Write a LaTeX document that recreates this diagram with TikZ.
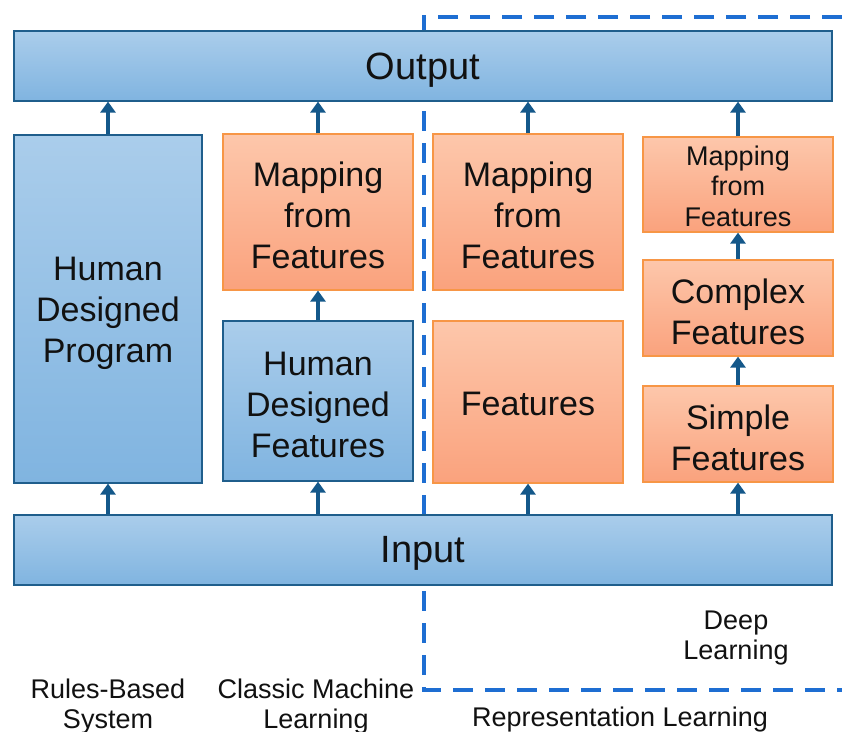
\documentclass[tikz,border=0pt]{standalone}
\usepackage{fontspec}
\setmainfont{Liberation Sans}
\usetikzlibrary{arrows.meta}

\definecolor{blueTop}{HTML}{AACDEB}
\definecolor{blueBot}{HTML}{80B4E0}
\definecolor{blueEdge}{HTML}{1F5E8C}
\definecolor{orTop}{HTML}{FDC7AB}
\definecolor{orBot}{HTML}{FAA27D}
\definecolor{orEdge}{HTML}{F79646}
\definecolor{flowCol}{HTML}{14588A}
\definecolor{dashCol}{HTML}{1E6ED2}
\definecolor{txt}{HTML}{111111}

\tikzset{
  box/.style={rectangle, inner sep=0pt, line width=1.2pt},
  bluebox/.style={box, draw=blueEdge, top color=blueTop, bottom color=blueBot},
  orangebox/.style={box, draw=orEdge, top color=orTop, bottom color=orBot},
  boxtext/.style={align=center, text=txt, inner sep=0pt},
  big/.style={font=\fontsize{38}{44}\selectfont},
  mid/.style={font=\fontsize{34}{41}\selectfont},
  small/.style={font=\fontsize{27}{30.5}\selectfont},
  caption/.style={align=center, text=txt, inner sep=0pt, font=\fontsize{27}{30}\selectfont},
  flow/.style={draw=flowCol, line width=3.5pt, -{Triangle[length=11pt,width=15pt]}},
  region/.style={draw=dashCol, line width=3.5pt, dash pattern=on 20pt off 12pt}
}

\begin{document}
\begin{tikzpicture}[x=1pt, y=-1pt]
  \useasboundingbox (0,0) rectangle (842,731);
  \fill[white] (0,0) rectangle (842,731);

  % representation learning region
  \draw[region] (842,17) -- (424,17) -- (424,690) -- (842,690);

  % input and output bars
  \node[bluebox, minimum width=818pt, minimum height=70pt] (out) at (423,66) {};
  \node[boxtext, big] (out-t) at ([yshift=-4pt]out.center) {Output};
  \node[bluebox, minimum width=818pt, minimum height=70pt] (inp) at (423,550) {};
  \node[boxtext, big] (inp-t) at ([yshift=-3pt]inp.center) {Input};

  % rules-based system
  \node[bluebox, minimum width=188pt, minimum height=348pt] (hdp) at (108,309) {};
  \node[boxtext, mid] (hdp-t) at ([yshift=-4pt]hdp.center) {Human\\Designed\\Program};

  % classic machine learning
  \node[orangebox, minimum width=190pt, minimum height=156pt] (map2) at (318,212) {};
  \node[boxtext, mid] (map2-t) at ([yshift=-3pt]map2.center) {Mapping\\from\\Features};
  \node[bluebox, minimum width=190pt, minimum height=160pt] (hdf) at (318,401) {};
  \node[boxtext, mid] (hdf-t) at ([yshift=-3.5pt]hdf.center) {Human\\Designed\\Features};

  % representation learning
  \node[orangebox, minimum width=190pt, minimum height=156pt] (map3) at (528,212) {};
  \node[boxtext, mid] (map3-t) at ([yshift=-3pt]map3.center) {Mapping\\from\\Features};
  \node[orangebox, minimum width=190pt, minimum height=162pt] (feat) at (528,402) {};
  \node[boxtext, mid] (feat-t) at ([yshift=-2pt]feat.center) {Features};

  % deep learning
  \node[orangebox, minimum width=190pt, minimum height=95pt] (map4) at (738,184.5) {};
  \node[boxtext, small] (map4-t) at ([yshift=-1.5pt]map4.center) {Mapping\\from\\Features};
  \node[orangebox, minimum width=190pt, minimum height=96pt] (cplx) at (738,308) {};
  \node[boxtext, mid] (cplx-t) at ([yshift=-3.5pt]cplx.center) {Complex\\Features};
  \node[orangebox, minimum width=190pt, minimum height=96pt] (simp) at (738,434) {};
  \node[boxtext, mid] (simp-t) at ([yshift=-3.5pt]simp.center) {Simple\\Features};

  % flows upward
  \foreach \b in {hdp, hdf, feat, simp} {
    \draw[flow] (inp.north -| \b.south) -- (\b.south);
  }
  \foreach \b in {hdp, map2, map3, map4} {
    \draw[flow] (\b.north) -- (out.south -| \b.north);
  }
  \draw[flow] (hdf.north) -- (map2.south);
  \draw[flow] (simp.north) -- (cplx.south);
  \draw[flow] (cplx.north) -- (map4.south);

  % captions
  \node[caption] (c1) at (108,707) {Rules-Based\\System};
  \node[caption] (c2) at (316,707) {Classic Machine\\Learning};
  \node[caption] (c3) at (736,638) {Deep\\Learning};
  \node[caption] (c4) at (620,720) {Representation Learning};
\end{tikzpicture}
\end{document}
